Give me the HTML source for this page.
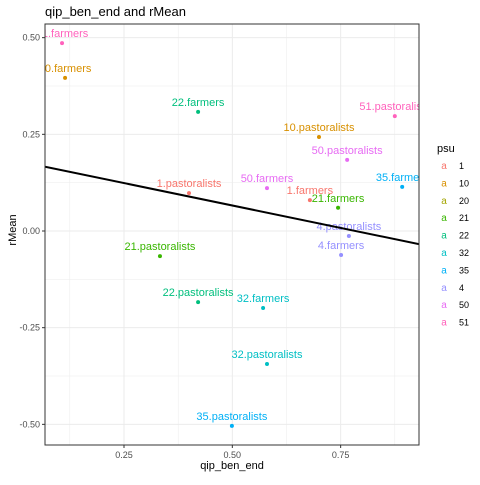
<!DOCTYPE html>
<html><head><meta charset="utf-8"><style>body{margin:0;background:#fff}svg{font-family:"Liberation Sans",sans-serif}</style></head>
<body>
<svg id="c" width="480" height="480"></svg>
<script>
const labels=["51.farmers","10.farmers","22.farmers","1.pastoralists","50.farmers","1.farmers","21.farmers","35.farmers","4.pastoralists","4.farmers","21.pastoralists","22.pastoralists","32.farmers","32.pastoralists","35.pastoralists","10.pastoralists","51.pastoralists","50.pastoralists"];
const xVals=[0.107,0.114,0.421,0.40,0.58,0.679,0.744,0.892,0.769,0.751,0.333,0.421,0.571,0.58,0.499,0.70,0.875,0.765];
const yVals=[0.486,0.396,0.308,0.098,0.111,0.08,0.06,0.114,-0.013,-0.062,-0.065,-0.184,-0.199,-0.344,-0.504,0.243,0.297,0.184];
const groups=["51","10","22","1","50","1","21","35","4","4","21","22","32","32","35","10","51","50"];
const psuLevels=["1","10","20","21","22","32","35","4","50","51"];
const colors=["#F8766D","#D89000","#A3A500","#39B600","#00BF7D","#00BFC4","#00B0F6","#9590FF","#E76BF3","#FF62BC"];
const xTicks=[0.25,0.5,0.75];const xTickLabels=["0.25","0.50","0.75"];
const yTicks=[0.5,0.25,0,-0.25,-0.5];const yTickLabels=["0.50","0.25","0.00","-0.25","-0.50"];
const fitSlope=-0.232, fitIntercept=0.182;
const L=45,R=419,T=24,B=445,xMin=0.0677,xMax=0.931;
const X=v=>124+(v-0.25)*433.3;
const Y=v=>231-v*386.7;
const svg=document.getElementById('c');const NS="http://www.w3.org/2000/svg";
function add(tag,attrs,parent,text){const e=document.createElementNS(NS,tag);for(const k in attrs)e.setAttribute(k,attrs[k]);if(text!==undefined)e.textContent=text;(parent||svg).appendChild(e);return e;}
const defs=add('defs',{});const cp=add('clipPath',{id:'pc'},defs);add('rect',{x:L,y:T,width:R-L,height:B-T},cp);
const bg=add('rect',{x:L,y:T,width:R-L,height:B-T,fill:'#fff'});


const grid=add('g',{stroke:'#EBEBEB'});


[0.125,0.375,0.625,0.875].forEach(v=>add('line',{x1:X(v),x2:X(v),y1:T,y2:B,'stroke-width':0.5},grid));
[0.375,0.125,-0.125,-0.375].forEach(v=>add('line',{x1:L,x2:R,y1:Y(v),y2:Y(v),'stroke-width':0.5},grid));
xTicks.forEach(v=>add('line',{x1:X(v),x2:X(v),y1:T,y2:B,'stroke-width':1},grid));
yTicks.forEach(v=>add('line',{x1:L,x2:R,y1:Y(v),y2:Y(v),'stroke-width':1},grid));
const pts=add('g',{'clip-path':'url(#pc)'});
labels.forEach((lab,i)=>{const c=colors[psuLevels.indexOf(groups[i])];
 const p=add('circle',{cx:X(xVals[i]),cy:Y(yVals[i]),r:2,fill:c},pts);
 
 
 const t=add('text',{x:X(xVals[i]),y:Y(yVals[i])-6,fill:c,'font-size':11,'text-anchor':'middle'},pts,lab);
 
 
});
const fl=add('line',{x1:L,x2:R,y1:Y(fitIntercept+fitSlope*xMin),y2:Y(fitIntercept+fitSlope*xMax),stroke:'#000','stroke-width':2,'clip-path':'url(#pc)'});


const bd=add('rect',{x:L,y:T,width:R-L,height:B-T,fill:'none',stroke:'#333','stroke-width':1});


xTicks.forEach((v,i)=>{add('line',{x1:X(v),x2:X(v),y1:B,y2:B+3,stroke:'#333'});
 const t=add('text',{x:X(v),y:B+13,'font-size':9,fill:'#4D4D4D','text-anchor':'middle'},svg,xTickLabels[i]);
 
 });
yTicks.forEach((v,i)=>{add('line',{x1:L-3,x2:L,y1:Y(v),y2:Y(v),stroke:'#333'});
 const t=add('text',{x:L-5,y:Y(v)+3,'font-size':9,fill:'#4D4D4D','text-anchor':'end'},svg,yTickLabels[i]);
 
 });
const lg=add('g',{});


add('text',{x:437,y:152,'font-size':11},lg,'psu');
psuLevels.forEach((p,i)=>{const y=165+i*17.4;
 const k=add('text',{x:444,y:y+4,'font-size':10,fill:colors[i],'text-anchor':'middle'},lg,'a');
 
 
 const t=add('text',{x:459,y:y+4,'font-size':9},lg,p);
 
 });
</script>
<div style="position:absolute;left:45px;top:4px;font-size:13px;font-family:'Liberation Sans',sans-serif">qip_ben_end and rMean</div>
<div style="position:absolute;left:0;top:460px;width:464px;text-align:center;font-size:11px;font-family:'Liberation Sans',sans-serif">qip_ben_end</div>
<div style="position:absolute;left:-17px;top:224px;width:60px;text-align:center;font-size:11px;font-family:'Liberation Sans',sans-serif;transform:rotate(-90deg)">rMean</div>
</body></html>
